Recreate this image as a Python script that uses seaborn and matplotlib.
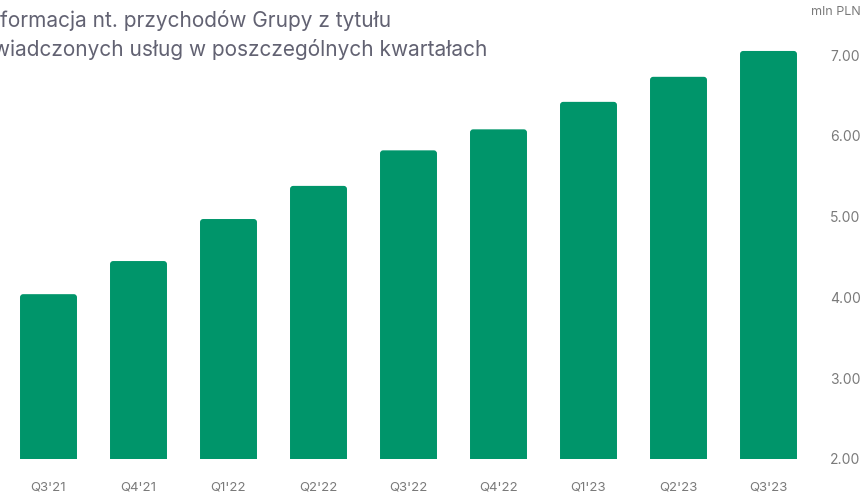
import seaborn as sns
import matplotlib.pyplot as plt
import pandas as pd
from matplotlib.patches import FancyBboxPatch

# Chart data (mln PLN)
quarters = ["Q3'21", "Q4'21", "Q1'22", "Q2'22", "Q3'22", "Q4'22", "Q1'23", "Q2'23", "Q3'23"]
revenue = [4.04, 4.45, 4.97, 5.38, 5.82, 6.08, 6.42, 6.73, 7.05]
y_ticks = [2.0, 3.0, 4.0, 5.0, 6.0, 7.0]

title_text = "Informacja nt. przychodów Grupy z tytułu\nświadczonych usług w poszczególnych kwartałach"
unit_text = "mln PLN"

sns.set_style("white")
plt.rcParams['font.family'] = ['Inter', 'DejaVu Sans']

W, H = 866, 497
fig = plt.figure(figsize=(W / 100, H / 100), dpi=100)
# axes placed in pixel terms: x from 3.5 to 813.5, y from 459 (2.00) to 47
ax = fig.add_axes([3.5 / W, (H - 459) / H, 810 / W, 412 / H])

df = pd.DataFrame({"quarter": quarters, "revenue": revenue})
sns.barplot(data=df, x="quarter", y="revenue", color="#00956a", saturation=1,
            width=0.633, ax=ax)

ax.set_ylim(2.0, 2.0 + 412 / 80.8)
ax.set_xlim(-0.5, len(quarters) - 0.5)

# rounded bar tops
for p in list(ax.patches):
    x, y = p.get_x(), p.get_y()
    w, h = p.get_width(), p.get_height()
    rb = FancyBboxPatch((x, y), w, h, boxstyle="round,pad=0,rounding_size=0.035",
                        mutation_aspect=90 / 80.8, facecolor=p.get_facecolor(),
                        edgecolor="none")
    p.remove()
    ax.add_patch(rb)

ax.yaxis.tick_right()
ax.set_yticks(y_ticks)
ax.set_yticklabels([f"{v:.2f}" for v in y_ticks])
ax.tick_params(axis="y", length=0, pad=12, labelsize=10, labelcolor="#7a7a7a")
ax.tick_params(axis="x", length=0, pad=16, labelsize=9.5, labelcolor="#7a7a7a")
ax.set_xlabel("")
ax.set_ylabel("")
for s in ax.spines.values():
    s.set_visible(False)

fig.text(-18 / W, 1 - 10 / H, title_text, ha="left", va="top", fontsize=15,
         color="#626272", linespacing=1.45)
fig.text(836 / W, 1 - 12 / H, unit_text, ha="center", va="center", fontsize=9,
         color="#7a7a7a")

fig.savefig("out.png", dpi=100)
plt.close(fig)
